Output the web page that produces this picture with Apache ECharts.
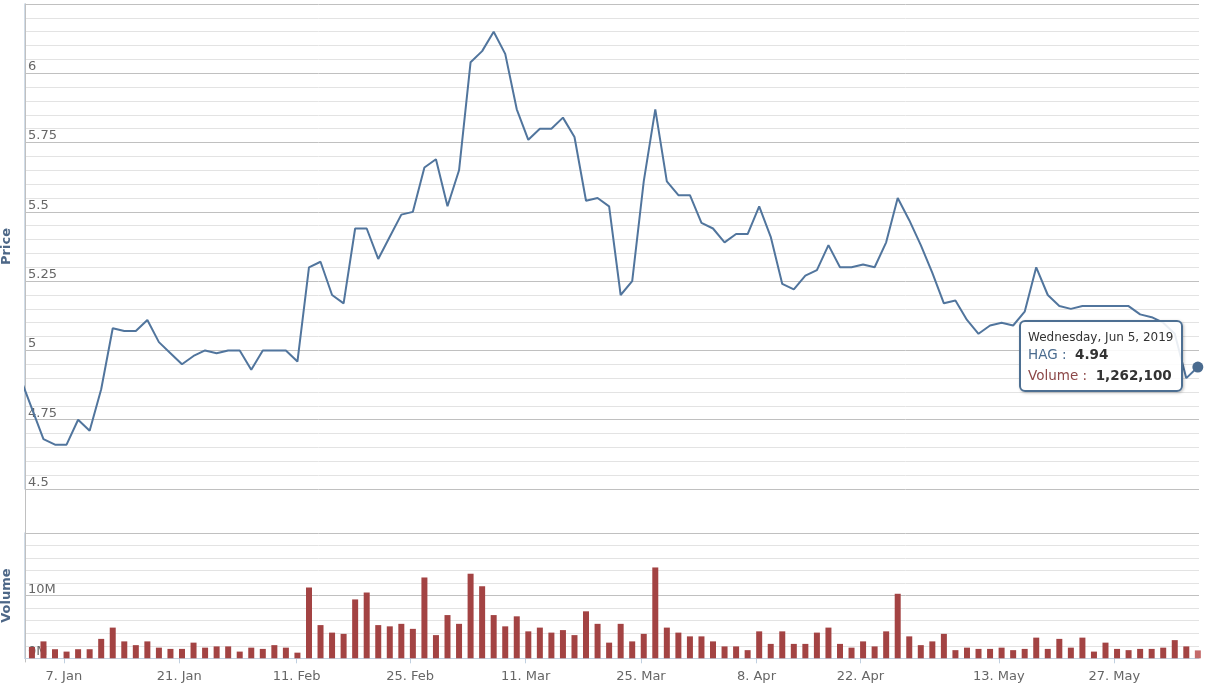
<!DOCTYPE html>
<html>
<head>
<meta charset="utf-8">
<script src="https://cdn.jsdelivr.net/npm/echarts@6/dist/echarts.min.js"></script>
<style>
html,body{margin:0;padding:0;background:#fff;}
#c{width:1208px;height:691px;}
</style>
</head>
<body>
<div id="c"></div>
<script>
// ---- data (trading days; first entry lies just left of the visible window) ----
const dates = [
'2018-12-28',
'2019-01-02','2019-01-03','2019-01-04','2019-01-07','2019-01-08','2019-01-09','2019-01-10','2019-01-11',
'2019-01-14','2019-01-15','2019-01-16','2019-01-17','2019-01-18','2019-01-21','2019-01-22','2019-01-23',
'2019-01-24','2019-01-25','2019-01-28','2019-01-29','2019-01-30','2019-01-31','2019-02-01',
'2019-02-11','2019-02-12','2019-02-13','2019-02-14','2019-02-15','2019-02-18','2019-02-19','2019-02-20',
'2019-02-21','2019-02-22','2019-02-25','2019-02-26','2019-02-27','2019-02-28','2019-03-01',
'2019-03-04','2019-03-05','2019-03-06','2019-03-07','2019-03-08','2019-03-11','2019-03-12','2019-03-13',
'2019-03-14','2019-03-15','2019-03-18','2019-03-19','2019-03-20','2019-03-21','2019-03-22',
'2019-03-25','2019-03-26','2019-03-27','2019-03-28','2019-03-29','2019-04-01','2019-04-02','2019-04-03',
'2019-04-04','2019-04-05','2019-04-08','2019-04-09','2019-04-10','2019-04-11','2019-04-12',
'2019-04-16','2019-04-17','2019-04-18','2019-04-19','2019-04-22','2019-04-23','2019-04-24','2019-04-25',
'2019-04-26','2019-05-02','2019-05-03','2019-05-06','2019-05-07','2019-05-08','2019-05-09','2019-05-10',
'2019-05-13','2019-05-14','2019-05-15','2019-05-16','2019-05-17','2019-05-20','2019-05-21','2019-05-22',
'2019-05-23','2019-05-24','2019-05-27','2019-05-28','2019-05-29','2019-05-30','2019-05-31',
'2019-06-03','2019-06-04','2019-06-05'
];

const price = [
4.90, 4.79, 4.68, 4.66, 4.66, 4.75, 4.71, 4.86, 5.08, 5.07,
5.07, 5.11, 5.03, 4.99, 4.95, 4.98, 5.00, 4.99, 5.00, 5.00,
4.93, 5.00, 5.00, 5.00, 4.96, 5.30, 5.32, 5.20, 5.17, 5.44,
5.44, 5.33, 5.41, 5.49, 5.50, 5.66, 5.69, 5.52, 5.65, 6.04,
6.08, 6.15, 6.07, 5.87, 5.76, 5.80, 5.80, 5.84, 5.77, 5.54,
5.55, 5.52, 5.20, 5.25, 5.61, 5.87, 5.61, 5.56, 5.56, 5.46,
5.44, 5.39, 5.42, 5.42, 5.52, 5.41, 5.24, 5.22, 5.27, 5.29,
5.38, 5.30, 5.30, 5.31, 5.30, 5.39, 5.55, 5.47, 5.38, 5.28,
5.17, 5.18, 5.11, 5.06, 5.09, 5.10, 5.09, 5.14, 5.30, 5.20,
5.16, 5.15, 5.16, 5.16, 5.16, 5.16, 5.16, 5.13, 5.12, 5.10,
5.06, 4.90, 4.94
];

// volume of the off-screen first day is not visible in the picture -> null
const volume = [
null, 1800000, 2700000, 1450000, 1070000, 1450000, 1450000, 3100000, 4900000, 2700000,
2100000, 2700000, 1700000, 1500000, 1500000, 2500000, 1700000, 1900000, 1900000, 1070000,
1700000, 1500000, 2100000, 1700000, 900000, 11300000, 5300000, 4100000, 3900000, 9400000,
10500000, 5300000, 5100000, 5500000, 4700000, 12900000, 3700000, 6900000, 5500000, 13500000,
11500000, 6900000, 5100000, 6700000, 4300000, 4900000, 4100000, 4500000, 3700000, 7500000,
5500000, 2500000, 5500000, 2700000, 3900000, 14500000, 4900000, 4100000, 3500000, 3500000,
2700000, 1900000, 1900000, 1300000, 4300000, 2300000, 4300000, 2300000, 2300000, 4100000,
4900000, 2300000, 1700000, 2700000, 1900000, 4300000, 10300000, 3500000, 2100000, 2700000,
3900000, 1300000, 1700000, 1500000, 1500000, 1700000, 1300000, 1500000, 3300000, 1500000,
3100000, 1700000, 3300000, 1070000, 2500000, 1500000, 1300000, 1500000, 1500000, 1700000,
2900000, 1900000, 1262100
];

const tickDates  = ['2019-01-07','2019-01-21','2019-02-11','2019-02-25','2019-03-11','2019-03-25','2019-04-08','2019-04-22','2019-05-13','2019-05-27'];
const tickLabels = ['7. Jan','21. Jan','11. Feb','25. Feb','11. Mar','25. Mar','8. Apr','22. Apr','13. May','27. May'];

const symbolName = 'HAG';
const hoverIndex = dates.length - 1;

// ---- styling ----
const LINE = '#4a6b8f';
const BAR = '#a34343';
const BAR_HOVER = '#c46a6a';
const FONT = 'DejaVu Sans';
const TITLE = '#4d6787';
const LABEL = '#666666';

// tick positions on the ordinal (trading-day index) axis: midnight of the tick date
const DAY = 86400000;
const tickPos = tickDates.map(function (d) {
  const k = dates.indexOf(d);
  const gap = (Date.parse(dates[k]) - Date.parse(dates[k - 1])) / DAY;
  return k - (17 / 24) / gap;
});
function tickLabel(v) {
  for (let j = 0; j < tickPos.length; j++) if (Math.abs(tickPos[j] - v) < 1e-6) return tickLabels[j];
  return '';
}

const X_MIN = 0.4, X_MAX = 102.1;

const chart = echarts.init(document.getElementById('c'), null, {renderer: 'canvas'});

const WD = ['Sunday','Monday','Tuesday','Wednesday','Thursday','Friday','Saturday'];
const MN = ['Jan','Feb','Mar','Apr','May','Jun','Jul','Aug','Sep','Oct','Nov','Dec'];

const option = {
  animation: false,
  backgroundColor: '#ffffff',
  grid: [
    {left: 25, right: 9, top: 4, height: 485, outerBoundsMode: 'none'},
    {left: 25, right: 9, top: 533, height: 125.3, outerBoundsMode: 'none'},
    {left: 25, right: 9, top: 4, height: 658, outerBoundsMode: 'none'}
  ],
  xAxis: [
    {gridIndex: 0, type: 'value', min: X_MIN, max: X_MAX, show: false},
    {
      gridIndex: 1, type: 'value', min: X_MIN, max: X_MAX, offset: 4,
      axisLine: {show: true, lineStyle: {color: '#C0D0E0', width: 1}},
      axisTick: {show: true, customValues: tickPos, length: 5, lineStyle: {color: '#C0D0E0'}},
      axisLabel: {customValues: tickPos, formatter: tickLabel, margin: 8, color: LABEL, fontSize: 13, fontFamily: FONT},
      splitLine: {show: false}
    },
    {gridIndex: 2, type: 'value', min: 0, max: 1, show: false}
  ],
  yAxis: [
    {
      gridIndex: 0, type: 'value', min: 4.5, max: 6.25, interval: 0.25,
      name: 'Price', nameLocation: 'middle', nameGap: 12,
      nameTextStyle: {fontFamily: FONT, fontWeight: 'bold', fontSize: 13, color: TITLE},
      axisLine: {show: true, lineStyle: {color: '#C0D0E0', width: 1.5}},
      axisTick: {show: false},
      axisLabel: {inside: true, margin: 3, verticalAlign: 'bottom', showMaxLabel: false, color: LABEL, fontSize: 13, fontFamily: FONT},
      splitLine: {show: true, lineStyle: {color: '#C0C0C0', width: 1}},
      minorTick: {show: false, splitNumber: 5},
      minorSplitLine: {show: true, lineStyle: {color: '#E3E3E3', width: 1}}
    },
    {
      gridIndex: 1, type: 'value', min: 0, max: 20000000, interval: 10000000,
      name: 'Volume', nameLocation: 'middle', nameGap: 12,
      nameTextStyle: {fontFamily: FONT, fontWeight: 'bold', fontSize: 13, color: TITLE},
      axisLine: {show: true, lineStyle: {color: '#C0D0E0', width: 1.5}},
      axisTick: {show: false},
      axisLabel: {inside: true, margin: 3, verticalAlign: 'bottom', showMaxLabel: false, color: LABEL, fontSize: 13, fontFamily: FONT,
        formatter: function (v) { return (v / 1000000) + 'M'; }},
      splitLine: {show: true, lineStyle: {color: '#C0C0C0', width: 1}},
      minorTick: {show: false, splitNumber: 5},
      minorSplitLine: {show: true, lineStyle: {color: '#E3E3E3', width: 1}}
    },
    {
      gridIndex: 2, type: 'value', min: 0, max: 1, position: 'right',
      axisLine: {show: true, lineStyle: {color: '#C0C0C0', width: 1}},
      axisTick: {show: false}, axisLabel: {show: false}, splitLine: {show: false}
    }
  ],
  tooltip: {
    trigger: 'axis',
    triggerOn: 'none',
    alwaysShowContent: true,
    transitionDuration: 0,
    axisPointer: {type: 'none'},
    backgroundColor: 'rgba(255,255,255,0.88)',
    borderColor: '#4d6f92',
    borderWidth: 2,
    padding: [7, 8, 3, 7],
    extraCssText: 'border-radius:6px;box-shadow:1px 1px 3px rgba(0,0,0,0.25);',
    textStyle: {fontFamily: FONT},
    position: function (point, params, dom, rect, size) {
      return [point[0] - size.contentSize[0] - 15, point[1] - 47];
    },
    formatter: function (params) {
      const p = Array.isArray(params) ? params[0] : params;
      const k = p.dataIndex;
      const d = new Date(dates[k] + 'T00:00:00');
      const head = WD[d.getDay()] + ', ' + MN[d.getMonth()] + ' ' + d.getDate() + ', ' + d.getFullYear();
      const vol = volume[k] == null ? '-' : volume[k].toLocaleString('en-US');
      return '<div style="font-family:DejaVu Sans;font-size:12px;line-height:16px;color:#333;white-space:nowrap">' + head + '</div>' +
        '<div style="font-family:DejaVu Sans;font-size:13.5px;line-height:18px;white-space:nowrap"><span style="color:' + LINE + '">' + symbolName + ' :</span>&nbsp; <b style="color:#333">' + price[k].toFixed(2) + '</b></div>' +
        '<div style="font-family:DejaVu Sans;font-size:13.5px;line-height:24px;white-space:nowrap"><span style="color:#8c4848">Volume :</span>&nbsp; <b style="color:#333">' + vol + '</b></div>';
    }
  },
  series: [
    {
      name: symbolName, type: 'line', xAxisIndex: 0, yAxisIndex: 0,
      data: price.map(function (v, k) { return [k, v]; }),
      showSymbol: false, symbol: 'circle', symbolSize: 11,
      lineStyle: {color: LINE, width: 2},
      itemStyle: {color: LINE, borderWidth: 0},
      emphasis: {scale: false, lineStyle: {width: 2}, itemStyle: {color: LINE, borderWidth: 0}},
      clip: true, z: 3
    },
    {
      name: 'Volume', type: 'bar', xAxisIndex: 1, yAxisIndex: 1,
      data: volume.map(function (v, k) { return [k, v]; }),
      barWidth: 6,
      itemStyle: {color: BAR},
      emphasis: {itemStyle: {color: BAR_HOVER}},
      clip: true
    }
  ]
};

chart.setOption(option);
chart.dispatchAction({type: 'showTip', seriesIndex: 0, dataIndex: hoverIndex});
chart.dispatchAction({type: 'highlight', seriesIndex: 0, dataIndex: hoverIndex});
chart.dispatchAction({type: 'highlight', seriesIndex: 1, dataIndex: hoverIndex});
</script>
</body>
</html>
